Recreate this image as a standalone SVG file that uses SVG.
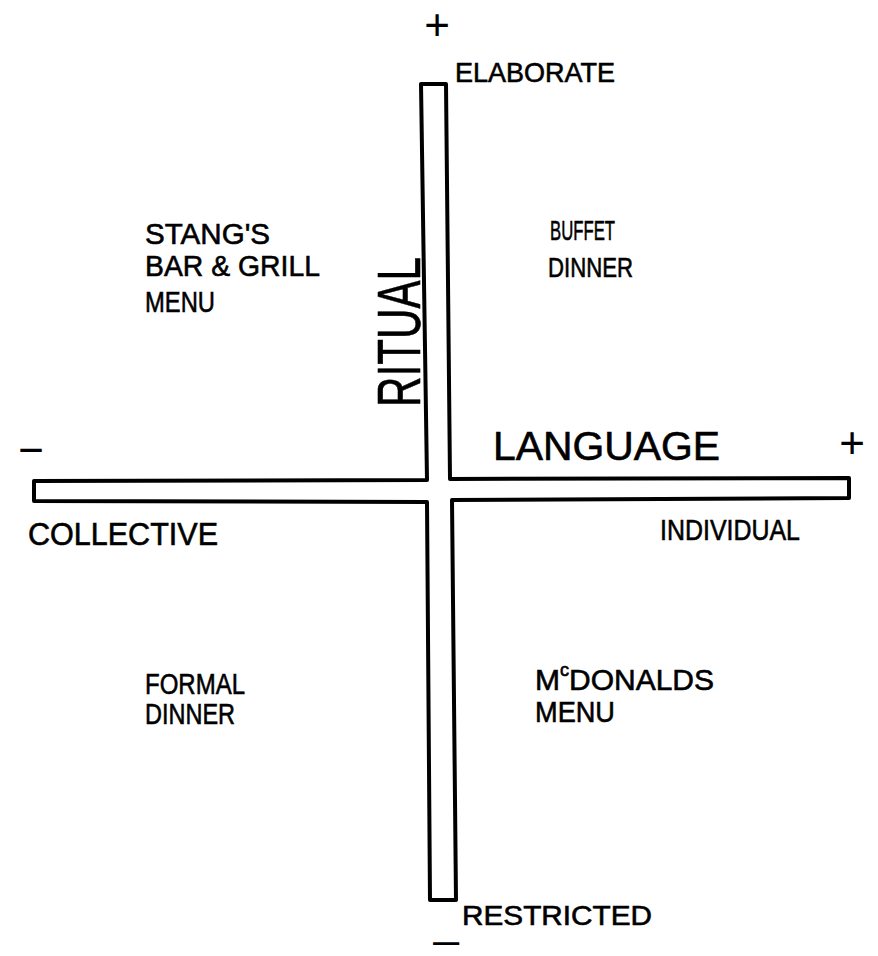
<svg xmlns="http://www.w3.org/2000/svg" width="878" height="956" viewBox="0 0 878 956">
<style>
.lbl{font-family:"Liberation Sans","DejaVu Sans",sans-serif;fill:#000;stroke:#000;stroke-width:0.6}
.sign{font-family:"Liberation Sans","DejaVu Sans",sans-serif;font-size:44px;fill:#000;text-anchor:middle}
.axis{fill:none;stroke:#000;stroke-width:4;stroke-linejoin:round}
</style>
<rect width="878" height="956" fill="#fff"/>
<g id="connectors">
<path class="axis" d="M421,84 L446,84 L450,479 L849,478 L849,498 L452,500 L456,900 L430,900 L427,502 L34,501 L34,481 L427,480 Z"/>
</g>
<g id="ritual-axis">
<text class="sign" x="437" y="40">+</text>
<text class="lbl" x="455" y="82" font-size="28" textLength="160" lengthAdjust="spacingAndGlyphs">ELABORATE</text>
<text class="lbl" transform="translate(420,407) rotate(-90)" font-size="62" textLength="150" lengthAdjust="spacingAndGlyphs">RITUAL</text>
<text class="lbl" x="462" y="925" font-size="28" textLength="190" lengthAdjust="spacingAndGlyphs">RESTRICTED</text>
<text class="sign" transform="translate(446,951) scale(2.2,1)" style="font-size:22px;stroke:#000;stroke-width:1.2">−</text>
</g>
<g id="language-axis">
<text class="sign" x="31" y="465">−</text>
<text class="lbl" x="493" y="460" font-size="40" textLength="227" lengthAdjust="spacingAndGlyphs">LANGUAGE</text>
<text class="sign" x="852" y="458">+</text>
<text class="lbl" x="28" y="545" font-size="32" textLength="190" lengthAdjust="spacingAndGlyphs">COLLECTIVE</text>
<text class="lbl" x="660" y="540" font-size="30" textLength="140" lengthAdjust="spacingAndGlyphs">INDIVIDUAL</text>
</g>
<g id="stangs">
<text class="lbl" x="145" y="244" font-size="30" textLength="125" lengthAdjust="spacingAndGlyphs">STANG'S</text>
<text class="lbl" x="145" y="276" font-size="30" textLength="175" lengthAdjust="spacingAndGlyphs">BAR &amp; GRILL</text>
<text class="lbl" x="145" y="312" font-size="30" textLength="70" lengthAdjust="spacingAndGlyphs">MENU</text>
</g>
<g id="buffet">
<text class="lbl" x="550" y="240" font-size="28" textLength="65" lengthAdjust="spacingAndGlyphs">BUFFET</text>
<text class="lbl" x="548" y="277" font-size="28" textLength="85" lengthAdjust="spacingAndGlyphs">DINNER</text>
</g>
<g id="formal">
<text class="lbl" x="145" y="694" font-size="30" textLength="100" lengthAdjust="spacingAndGlyphs">FORMAL</text>
<text class="lbl" x="145" y="724" font-size="30" textLength="90" lengthAdjust="spacingAndGlyphs">DINNER</text>
</g>
<g id="mcdonalds">
<text class="lbl" x="535" y="690" font-size="30">M<tspan font-size="18" dy="-14">c</tspan><tspan dy="14">DONALDS</tspan></text>
<text class="lbl" x="535" y="722" font-size="30" textLength="80" lengthAdjust="spacingAndGlyphs">MENU</text>
</g>
</svg>
